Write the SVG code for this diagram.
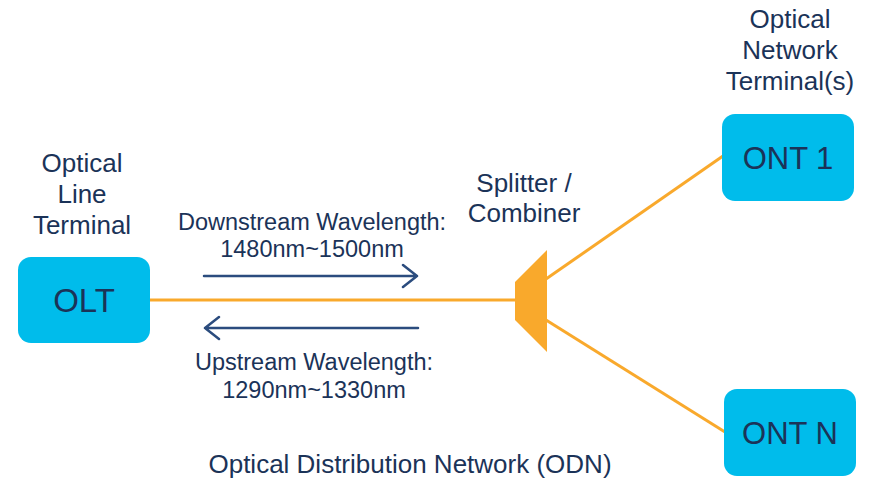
<svg xmlns="http://www.w3.org/2000/svg" width="871" height="482" viewBox="0 0 871 482">
  <style>
    text { font-family: "Liberation Sans", Arial, sans-serif; fill: #1B3358; text-anchor: middle; }
    .box { fill: #00BCEB; }
    .fiber { stroke: #F9A92C; stroke-width: 3; fill: none; }
    .wl { stroke: #2B4C7E; stroke-width: 2.5; fill: none; stroke-linecap: round; stroke-linejoin: round; }
    .lbl { font-size: 26px; }
    .sm { font-size: 23.5px; }
    .node { font-size: 31px; }
  </style>

  <!-- fiber connectors and wavelength arrows -->
  <g id="connectors">
    <line class="fiber" x1="150" y1="300" x2="516" y2="300"/>
    <line class="fiber" x1="546" y1="279" x2="723" y2="156"/>
    <line class="fiber" x1="546" y1="320" x2="725" y2="432"/>
    <path class="wl" d="M204 276 H417 M403 265 L417 276 L403 287"/>
    <path class="wl" d="M418 328 H205 M219 317 L205 328 L219 339"/>
  </g>

  <g id="olt">
    <rect class="box" x="18" y="257" width="132" height="86" rx="13"/>
    <text class="node" x="84" y="312" style="font-size:33px">OLT</text>
  </g>

  <g id="splitter">
    <polygon points="515,282 547,250 547,352 515,320" fill="#F9A92C"/>
  </g>

  <g id="ont1">
    <rect class="box" x="722" y="114" width="132" height="87" rx="13"/>
    <text class="node" x="788" y="169">ONT 1</text>
  </g>

  <g id="ontn">
    <rect class="box" x="724" y="389" width="132" height="87" rx="13"/>
    <text class="node" x="790" y="444">ONT N</text>
  </g>

  <!-- labels -->
  <g id="labels">
    <text class="lbl" x="82" y="172">Optical</text>
    <text class="lbl" x="82" y="203">Line</text>
    <text class="lbl" x="82" y="234">Terminal</text>

    <text class="lbl" x="790" y="28">Optical</text>
    <text class="lbl" x="790" y="59">Network</text>
    <text class="lbl" x="790" y="90">Terminal(s)</text>

    <text class="lbl" x="524" y="192">Splitter /</text>
    <text class="lbl" x="524" y="222">Combiner</text>

    <text class="sm" x="312" y="230">Downstream Wavelength:</text>
    <text class="sm" x="312" y="257">1480nm~1500nm</text>

    <text class="sm" x="314" y="370">Upstream Wavelength:</text>
    <text class="sm" x="314" y="398">1290nm~1330nm</text>

    <text class="lbl" x="410" y="473">Optical Distribution Network (ODN)</text>
  </g>
</svg>
